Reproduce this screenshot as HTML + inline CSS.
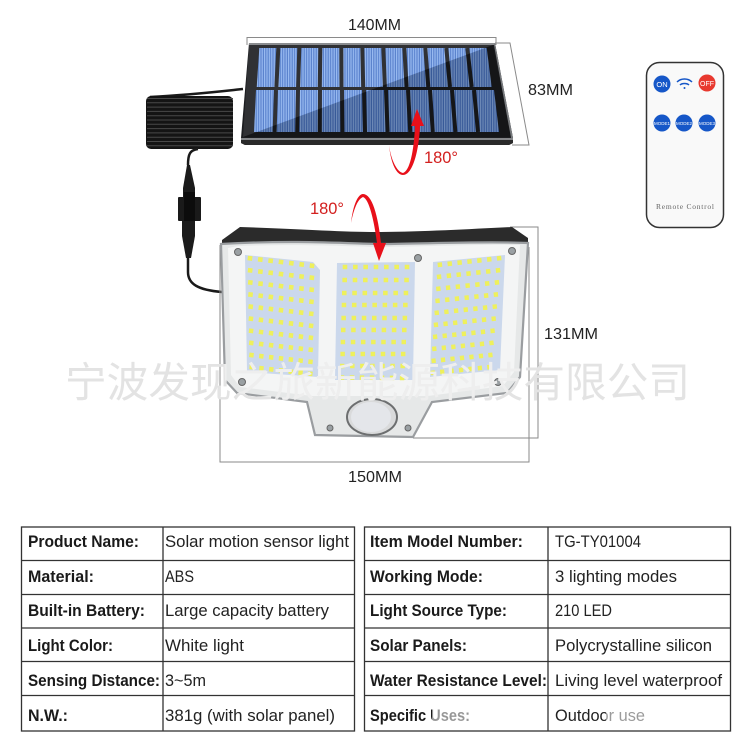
<!DOCTYPE html>
<html><head><meta charset="utf-8"><style>
html,body{margin:0;padding:0;background:#fff}
svg{display:block}
text{font-family:"Liberation Sans","Noto Sans CJK SC",sans-serif}
.t{font-size:17px;fill:#222}
.b{font-size:16.500px;fill:#1a1a1a;font-weight:bold}
.d{font-size:16px;fill:#222}
.r{font-size:16.500px;fill:#d3201f}
.g{stroke:#8a8a8a;stroke-width:1;fill:none}
.gap{stroke:#1c1d20;stroke-width:4}
.l{stroke:#eef05c;stroke-width:4.600;stroke-dasharray:4.600 5.800}
.s{fill:#9aa0a3;stroke:#666;stroke-width:1}
</style></head><body>
<svg width="750" height="750" viewBox="0 0 750 750" xmlns="http://www.w3.org/2000/svg">
<defs>
<pattern id="st" width="2.400" height="4" patternUnits="userSpaceOnUse"><rect width="2.400" height="4" fill="#4a76c8"/><rect width="1.200" height="4" fill="#8fb4f0"/></pattern>
<clipPath id="body"><path d="M221 244C290 240 340 243 377 244C420 244 480 241 528 243L520 377L507 393L432 402L413 437L315 435L307 402L237 393L225 380Z"/></clipPath>
</defs>
<rect width="750" height="750" fill="#fff"/>

<!-- dimensions solar -->
<path class="g" d="M247 45V37.500H496V45M495 43H510L529 145H512"/>
<text class="d" x="348" y="30" textLength="53" lengthAdjust="spacingAndGlyphs">140MM</text>
<text class="d" x="528" y="95" textLength="45" lengthAdjust="spacingAndGlyphs">83MM</text>

<!-- cable top -->
<path d="M243 89C215 92 190 95 150 97" stroke="#1a1a1a" stroke-width="2.500" fill="none"/>
<!-- coil -->
<rect x="146" y="96" width="87" height="53" rx="5" fill="#141414"/>
<line x1="190" y1="98" x2="190" y2="149" stroke="#484848" stroke-width="86" stroke-dasharray="1 3.300"/>
<!-- cable and connector -->
<path d="M198 149C190 150 188 154 188 165" stroke="#1a1a1a" stroke-width="2.500" fill="none"/>
<path d="M187 165H190L195 188V197H183V188Z" fill="#1b1b1b"/>
<rect x="178" y="197" width="23" height="24" rx="1" fill="#1a1a1a"/>
<rect x="184" y="192" width="11" height="35" fill="#0c0c0c"/>
<path d="M182 221H195V236L191 258H186L182 236Z" fill="#1b1b1b"/>
<path d="M188 258V272C188 284 198 290 222 292" stroke="#1a1a1a" stroke-width="2.500" fill="none"/>

<!-- solar panel -->
<polygon points="249,43 495,43 513,138 513,143 509,145 245,145 241,143 241,138" fill="#1c1d20"/>
<polygon points="249,43 495,43 495,45 249,45" fill="#8b8d90"/>
<polygon points="495,43 513,138 511,138 494,45" fill="#777a7d"/>
<polygon points="241,138 513,138 513,140 241,140" fill="#85878a"/>
<polygon points="241,140 513,140 513,143 509,145 245,145 241,143" fill="#2a2a2a"/>
<polygon points="259.300,48 486.700,48 491.700,87 256.700,87" fill="url(#st)"/>
<polygon points="256,90 494,90 499,132 254,132" fill="url(#st)"/>
<g class="gap">
<line x1="278.300" y1="48" x2="276.400" y2="87"/><line x1="299.300" y1="48" x2="298.100" y2="87"/><line x1="320.300" y1="48" x2="319.800" y2="87"/><line x1="341.300" y1="48" x2="341.500" y2="87"/><line x1="362.300" y1="48" x2="363.200" y2="87"/><line x1="383.300" y1="48" x2="384.900" y2="87"/><line x1="404.300" y1="48" x2="406.600" y2="87"/><line x1="425.300" y1="48" x2="428.300" y2="87"/><line x1="446.300" y1="48" x2="450" y2="87"/><line x1="467.300" y1="48" x2="471.700" y2="87"/>
<line x1="276" y1="90" x2="274.600" y2="132"/><line x1="298" y1="90" x2="297.200" y2="132"/><line x1="320" y1="90" x2="319.800" y2="132"/><line x1="342" y1="90" x2="342.400" y2="132"/><line x1="364" y1="90" x2="365" y2="132"/><line x1="386" y1="90" x2="387.600" y2="132"/><line x1="408" y1="90" x2="410.200" y2="132"/><line x1="430" y1="90" x2="432.800" y2="132"/><line x1="452" y1="90" x2="455.400" y2="132"/><line x1="474" y1="90" x2="478" y2="132"/>
</g>
<polygon points="249,45 493,45 243,137" fill="#fff" opacity=".09"/>
<polygon points="493,45 511,137 243,137" fill="#000" opacity=".24"/>

<!-- red arrow 1 -->
<path d="M389 145C391 165 397 175 403 175C413 175 419 150 420 126H424L417 109L411 126H415C414 150 410 171 403 173C397 172 391 160 389 145Z" fill="#e8101a"/>
<text class="r" x="424" y="163" textLength="34" lengthAdjust="spacingAndGlyphs">180°</text>

<!-- lamp dimension -->
<path class="g" d="M220 245V462H529V247M510 227H538V438H413" stroke="#777"/>
<text class="d" x="544" y="339" textLength="54" lengthAdjust="spacingAndGlyphs">131MM</text>
<text class="d" x="348" y="482" textLength="54" lengthAdjust="spacingAndGlyphs">150MM</text>

<!-- lamp -->
<path d="M222 240L240 227C300 229 340 232 377 232C420 232 470 229 512 227L528 238V246L377 248L222 246Z" fill="#2b2b2b"/>
<path d="M221 244C290 240 340 243 377 244C420 244 480 241 528 243L520 377L507 393L432 402L413 437L315 435L307 402L237 393L225 380Z" fill="#e6e8e8" stroke="#9a9da0" stroke-width="2.200"/>
<path d="M228 248L238 246C300 244 340 246 377 247C420 247 480 244 520 245L514 372L503 386L428 396H312L240 387L231 375Z" fill="#f4f5f5"/>
<polygon points="245,255 313,262 320,270 318,377 247,372" fill="#cbd8ec"/>
<polygon points="337,263 415,262 413,380 335,380" fill="#cbd8ec"/>
<polygon points="433,262 505,255 500,370 430,377" fill="#cbd8ec"/>
<!-- LEDs -->
<g class="l">
<line pathLength="67" x1="247.700" y1="258" x2="314.300" y2="266"/>
<line pathLength="67" x1="247.900" y1="270.100" x2="314.100" y2="278"/>
<line pathLength="67" x1="248.100" y1="282.200" x2="313.900" y2="290"/>
<line pathLength="67" x1="248.300" y1="294.300" x2="313.700" y2="302"/>
<line pathLength="67" x1="248.500" y1="306.400" x2="313.500" y2="314"/>
<line pathLength="67" x1="248.700" y1="318.500" x2="313.300" y2="326"/>
<line pathLength="67" x1="248.900" y1="330.600" x2="313.100" y2="338"/>
<line pathLength="67" x1="249.100" y1="342.700" x2="312.900" y2="350"/>
<line pathLength="67" x1="249.300" y1="354.800" x2="312.700" y2="362"/>
<line pathLength="67" x1="249.500" y1="366.900" x2="312.500" y2="374"/>
<line pathLength="67" x1="342.700" y1="267" x2="409.300" y2="267"/>
<line pathLength="67" x1="342.400" y1="280" x2="408.800" y2="280"/>
<line pathLength="67" x1="342" y1="293" x2="408.200" y2="293"/>
<line pathLength="67" x1="341.700" y1="305" x2="407.600" y2="305"/>
<line pathLength="67" x1="341.400" y1="318" x2="407.100" y2="318"/>
<line pathLength="67" x1="341" y1="330" x2="406.500" y2="330"/>
<line pathLength="67" x1="340.700" y1="342" x2="406" y2="342"/>
<line pathLength="67" x1="340.400" y1="354" x2="405.400" y2="354"/>
<line pathLength="67" x1="340" y1="366" x2="404.900" y2="366"/>
<line pathLength="67" x1="339.700" y1="377.500" x2="404.300" y2="378"/>
<line pathLength="67" x1="437.700" y1="265" x2="501.300" y2="258"/>
<line pathLength="67" x1="436.900" y1="277" x2="500.200" y2="270.100"/>
<line pathLength="67" x1="436.200" y1="289" x2="499.100" y2="282.200"/>
<line pathLength="67" x1="435.400" y1="301" x2="498" y2="294.300"/>
<line pathLength="67" x1="434.600" y1="313" x2="496.900" y2="306.400"/>
<line pathLength="67" x1="433.800" y1="325" x2="495.800" y2="318.500"/>
<line pathLength="67" x1="433" y1="337" x2="494.700" y2="330.600"/>
<line pathLength="67" x1="432.200" y1="349" x2="493.600" y2="342.700"/>
<line pathLength="67" x1="431.500" y1="361" x2="492.500" y2="354.800"/>
<line pathLength="67" x1="430.700" y1="373" x2="491.400" y2="366.900"/>
</g>
<circle class="s" cx="238" cy="252" r="3.500"/><circle class="s" cx="418" cy="258" r="3.500"/><circle class="s" cx="512" cy="251" r="3.500"/><circle class="s" cx="242" cy="382" r="3.500"/><circle class="s" cx="498" cy="382" r="3.500"/><circle class="s" cx="330" cy="428" r="3"/><circle class="s" cx="408" cy="428" r="3"/>
<ellipse cx="372" cy="417" rx="25" ry="18" fill="#d9dadb" stroke="#6d6f70" stroke-width="2"/>
<ellipse cx="371" cy="417" rx="20" ry="15" fill="#e4e6ea"/>

<!-- red arrow 2 -->
<path d="M351 223C353 205 358 194 363 194C372 194 378 215 381 243H386L379 261L373 243H377C374 220 369 199 363 197C358 199 354 208 351 223Z" fill="#e8101a"/>
<text class="r" x="310" y="214" textLength="34" lengthAdjust="spacingAndGlyphs">180°</text>

<!-- watermark -->
<text x="65" y="397" font-size="41.600" fill="#e3e3e3" textLength="625">宁波发现之旅新能源科技有限公司</text>
<g clip-path="url(#body)"><text x="65" y="397" font-size="41.600" fill="#fff" opacity=".4" textLength="625">宁波发现之旅新能源科技有限公司</text></g>

<!-- remote -->
<rect x="646.500" y="62.500" width="77" height="165" rx="13" fill="#f9f9f9" stroke="#333" stroke-width="1.500"/>
<circle cx="662" cy="84" r="8.500" fill="#1657c8"/><circle cx="707" cy="83" r="8.500" fill="#e8392f"/>
<text x="662" y="87" font-size="7.500" fill="#fff" text-anchor="middle">ON</text>
<text x="707" y="86" font-size="7" fill="#fff" text-anchor="middle">OFF</text>
<path d="M677 82C681 78 688 78 692 82M680 85C682 83 687 83 689 85" stroke="#1657c8" stroke-width="1.500" fill="none"/><circle cx="684.500" cy="88" r="1" fill="#1657c8"/>
<circle cx="662" cy="123" r="8.500" fill="#1657c8"/><circle cx="684" cy="123" r="8.500" fill="#1657c8"/><circle cx="707" cy="123" r="8.500" fill="#1657c8"/>
<text x="662" y="125" font-size="4.500" fill="#fff" text-anchor="middle">MODE1</text>
<text x="684" y="125" font-size="4.500" fill="#fff" text-anchor="middle">MODE2</text>
<text x="707" y="125" font-size="4.500" fill="#fff" text-anchor="middle">MODE3</text>
<text x="656" y="209" font-size="7.500" fill="#666" style="font-family:'Liberation Serif',serif" textLength="58" lengthAdjust="spacing">Remote Control</text>

<!-- table -->
<g stroke="#333" stroke-width="1.300" fill="none">
<rect x="21.500" y="527" width="333" height="204"/>
<rect x="364.500" y="527" width="366" height="204"/>
<path d="M163 527V731M548 527V731"/>
<path d="M21.500 560.500H354.500M21.500 594.500H354.500M21.500 628H354.500M21.500 661.500H354.500M21.500 695.500H354.500"/>
<path d="M364.500 560.500H730.500M364.500 594.500H730.500M364.500 628H730.500M364.500 661.500H730.500M364.500 695.500H730.500"/>
</g>
<g transform="translate(0,1)">
<text class="b" x="28" y="546" textLength="111" lengthAdjust="spacingAndGlyphs">Product Name:</text>
<text class="t" x="165" y="546" textLength="184" lengthAdjust="spacingAndGlyphs">Solar motion sensor light</text>
<text class="b" x="28" y="581" textLength="66" lengthAdjust="spacingAndGlyphs">Material:</text>
<text class="t" x="165" y="581" textLength="29" lengthAdjust="spacingAndGlyphs">ABS</text>
<text class="b" x="28" y="615" textLength="117" lengthAdjust="spacingAndGlyphs">Built-in Battery:</text>
<text class="t" x="165" y="615" textLength="164" lengthAdjust="spacingAndGlyphs">Large capacity battery</text>
<text class="b" x="28" y="650" textLength="85" lengthAdjust="spacingAndGlyphs">Light Color:</text>
<text class="t" x="165" y="650" textLength="79" lengthAdjust="spacingAndGlyphs">White light</text>
<text class="b" x="28" y="685" textLength="132" lengthAdjust="spacingAndGlyphs">Sensing Distance:</text>
<text class="t" x="165" y="685" textLength="41" lengthAdjust="spacingAndGlyphs">3~5m</text>
<text class="b" x="28" y="720" textLength="40" lengthAdjust="spacingAndGlyphs">N.W.:</text>
<text class="t" x="165" y="720" textLength="170" lengthAdjust="spacingAndGlyphs">381g (with solar panel)</text>
<text class="b" x="370" y="546" textLength="153" lengthAdjust="spacingAndGlyphs">Item Model Number:</text>
<text class="t" x="555" y="546" textLength="86" lengthAdjust="spacingAndGlyphs">TG-TY01004</text>
<text class="b" x="370" y="581" textLength="113" lengthAdjust="spacingAndGlyphs">Working Mode:</text>
<text class="t" x="555" y="581" textLength="122" lengthAdjust="spacingAndGlyphs">3 lighting modes</text>
<text class="b" x="370" y="615" textLength="137" lengthAdjust="spacingAndGlyphs">Light Source Type:</text>
<text class="t" x="555" y="615" textLength="57" lengthAdjust="spacingAndGlyphs">210 LED</text>
<text class="b" x="370" y="650" textLength="97" lengthAdjust="spacingAndGlyphs">Solar Panels:</text>
<text class="t" x="555" y="650" textLength="157" lengthAdjust="spacingAndGlyphs">Polycrystalline silicon</text>
<text class="b" x="370" y="685" textLength="177" lengthAdjust="spacingAndGlyphs">Water Resistance Level:</text>
<text class="t" x="555" y="685" textLength="167" lengthAdjust="spacingAndGlyphs">Living level waterproof</text>
<text class="b" x="370" y="720" textLength="100" lengthAdjust="spacingAndGlyphs">Specific Uses:</text>
<text class="t" x="555" y="720" textLength="90" lengthAdjust="spacingAndGlyphs">Outdoor use</text>
</g>
<!-- faded watermark smears over last row -->
<rect x="432" y="707" width="40" height="18" fill="#fff" opacity=".55"/>
<rect x="606" y="707" width="42" height="18" fill="#fff" opacity=".55"/>
</svg>
</body></html>
